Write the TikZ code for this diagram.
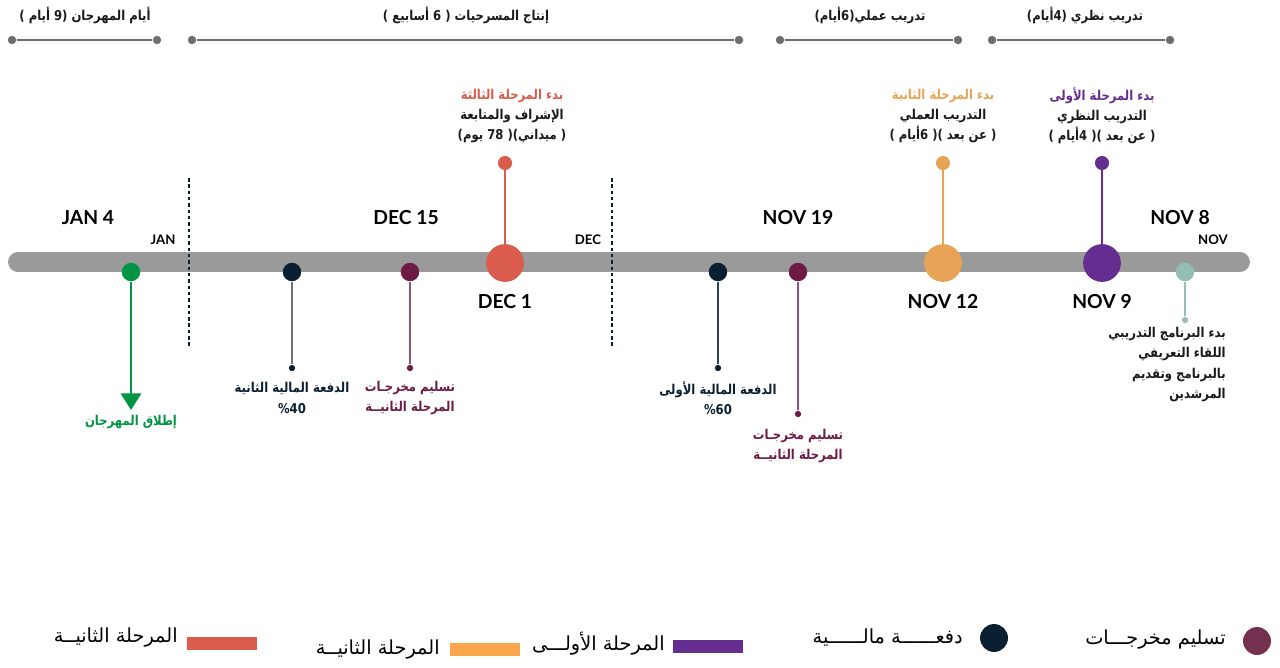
\documentclass[tikz,border=0pt]{standalone}
\usepackage{fontspec}
\setmainfont{Lato}
\newfontfamily\arabicfont[Script=Arabic]{DejaVu Sans}
\newfontfamily\arabicnarrow[Script=Arabic, FakeStretch=0.86]{DejaVu Sans}
\usetikzlibrary{arrows.meta}
\TeXXeTstate=1
\newcommand{\artxt}[1]{\beginR #1\endR}

\definecolor{redph}{HTML}{D95C4C}
\definecolor{orph}{HTML}{E8A456}
\definecolor{purph}{HTML}{662D91}
\definecolor{greenl}{HTML}{009444}
\definecolor{navyd}{HTML}{0B1F33}
\definecolor{maroond}{HTML}{6D1A45}
\definecolor{tealn}{HTML}{94BDB6}
\definecolor{linegray}{HTML}{9A9A9A}
\definecolor{bargray}{HTML}{6D6D6D}
\definecolor{legor}{HTML}{FBA54C}
\definecolor{legmar}{HTML}{74304F}
\definecolor{txtdark}{HTML}{1A1A1A}

\begin{document}
\begin{tikzpicture}[x=0.02cm, y=-0.02cm,
    bardot/.style={circle, fill=bargray, inner sep=0, minimum size=4.8pt},
    barline/.style={bargray, line width=1.6pt},
    toptxt/.style={font=\arabicnarrow\bfseries\fontsize{7.7}{10}\selectfont, text=txtdark, inner sep=0},
    bigdot/.style={circle, inner sep=0, minimum size=21.5pt},
    tipdot/.style={circle, inner sep=0, minimum size=8pt},
    linedot/.style={circle, inner sep=0, minimum size=10.5pt},
    enddot/.style={circle, inner sep=0, minimum size=3.6pt},
    stem/.style={line width=1.1pt},
    datetxt/.style={font=\bfseries\fontsize{11}{13}\selectfont, text=black, inner sep=0},
    monthtxt/.style={font=\bfseries\fontsize{7.5}{9}\selectfont, text=black, inner sep=0},
    lab/.style={font=\arabicnarrow\bfseries\fontsize{7.7}{11.5}\selectfont, align=center, inner sep=0},
    legtxt/.style={font=\arabicfont\fontsize{11}{13}\selectfont, text=black, inner sep=0, anchor=east},
    legbar/.style={inner sep=0, minimum width=39.7pt, minimum height=7.4pt},
  ]
  \useasboundingbox (0,0) rectangle (1280,667);

  % barre in alto
  \node[bardot] (fest1) at (12,40) {};
  \node[bardot] (fest2) at (157,40) {};
  \draw[barline] (fest1) -- (fest2);
  \node[toptxt] (festtxt) at (85,15) {\artxt{أيام المهرجان (9 أيام )}};

  \node[bardot] (prod1) at (192,40) {};
  \node[bardot] (prod2) at (739,40) {};
  \draw[barline] (prod1) -- (prod2);
  \node[toptxt] (prodtxt) at (466,15) {\artxt{إنتاج المسرحيات ( 6 أسابيع )}};

  \node[bardot] (prac1) at (780,40) {};
  \node[bardot] (prac2) at (958,40) {};
  \draw[barline] (prac1) -- (prac2);
  \node[toptxt] (practxt) at (870,15) {\artxt{تدريب عملي(6أيام)}};

  \node[bardot] (theo1) at (992,40) {};
  \node[bardot] (theo2) at (1170,40) {};
  \draw[barline] (theo1) -- (theo2);
  \node[toptxt] (theotxt) at (1085,15) {\artxt{تدريب نظري (4أيام)}};

  % linea del tempo
  \coordinate (tlstart) at (18,262);
  \coordinate (tlend) at (1240,262);
  \draw[linegray, line width=11.3pt, line cap=round] (tlstart) -- (tlend);

  % separatori dei mesi
  \coordinate (sepjan1) at (189,178);
  \coordinate (sepjan2) at (189,346);
  \coordinate (sepdec1) at (612,178);
  \coordinate (sepdec2) at (612,346);
  \draw[navyd, line width=0.7pt, dash pattern=on 2pt off 1.6pt] (sepjan1) -- (sepjan2);
  \draw[navyd, line width=0.7pt, dash pattern=on 2pt off 1.6pt] (sepdec1) -- (sepdec2);

  % date
  \node[datetxt] (jan4) at (88,218) {JAN 4};
  \node[monthtxt] (jan) at (163,240) {JAN};
  \node[datetxt] (dec15) at (406,218) {DEC 15};
  \node[monthtxt] (dec) at (588,240) {DEC};
  \node[datetxt] (nov19) at (798,218) {NOV 19};
  \node[datetxt] (nov8) at (1180,218) {NOV 8};
  \node[monthtxt] (nov) at (1213,240) {NOV};
  \node[datetxt] (dec1txt) at (505,302) {DEC 1};
  \node[datetxt] (nov12txt) at (943,302) {NOV 12};
  \node[datetxt] (nov9txt) at (1102,302) {NOV 9};

  % fasi (cerchi grandi)
  \node[bigdot, fill=redph] (dec1) at (505,263) {};
  \node[tipdot, fill=redph] (dec1top) at (505,163) {};
  \draw[stem, redph] (dec1top) -- (dec1);
  \node[lab] (dec1lab) at (512,116) {\textcolor{redph}{\artxt{بدء المرحلة الثالثة}}\\
    \textcolor{txtdark}{\artxt{الإشراف والمتابعة}}\\
    \textcolor{txtdark}{\artxt{( ميداني)( 78 يوم)}}};

  \node[bigdot, fill=orph] (nov12) at (943,263) {};
  \node[tipdot, fill=orph] (nov12top) at (943,163) {};
  \draw[stem, orph] (nov12top) -- (nov12);
  \node[lab] (nov12lab) at (943,116) {\textcolor{orph}{\artxt{بدء المرحلة الثانية}}\\
    \textcolor{txtdark}{\artxt{التدريب العملي}}\\
    \textcolor{txtdark}{\artxt{( عن بعد )( 6أيام )}}};

  \node[bigdot, fill=purph] (nov9) at (1102,263) {};
  \node[tipdot, fill=purph] (nov9top) at (1102,163) {};
  \draw[stem, purph] (nov9top) -- (nov9);
  \node[lab] (nov9lab) at (1102,116) {\textcolor{purph}{\artxt{بدء المرحلة الأولى}}\\
    \textcolor{txtdark}{\artxt{التدريب النظري}}\\
    \textcolor{txtdark}{\artxt{( عن بعد )( 4أيام )}}};

  % eventi sotto la linea
  \node[linedot, fill=greenl] (launch) at (131,272) {};
  \coordinate (launchend) at (131,410);
  \draw[greenl, line width=1.6pt, -{Triangle[width=11.5pt, length=9.5pt]}] (launch) -- (launchend);
  \node[lab, text=greenl] (launchtxt) at (131,422) {\artxt{إطلاق المهرجان}};

  \node[linedot, fill=navyd] (pay2) at (292,272) {};
  \node[enddot, fill=navyd] (pay2end) at (292,368) {};
  \draw[stem, black!55] (pay2) -- (pay2end);
  \node[lab, text=navyd] (pay2txt) at (292,398) {\artxt{الدفعة المالية الثانية}\\ \%40};

  \node[linedot, fill=maroond] (del2) at (410,272) {};
  \node[enddot, fill=maroond] (del2end) at (410,368) {};
  \draw[stem, maroond!75] (del2) -- (del2end);
  \node[lab, text=maroond] (del2txt) at (410,398) {\artxt{تسليم مخرجـات}\\ \artxt{المرحلة الثانيــة}};

  \node[linedot, fill=navyd] (pay1) at (718,272) {};
  \node[enddot, fill=navyd] (pay1end) at (718,368) {};
  \draw[stem, navyd!85] (pay1) -- (pay1end);
  \node[lab, text=navyd] (pay1txt) at (718,398) {\artxt{الدفعة المالية الأولى}\\ \%60};

  \node[linedot, fill=maroond] (del1) at (798,272) {};
  \node[enddot, fill=maroond] (del1end) at (798,414) {};
  \draw[stem, maroond!75] (del1) -- (del1end);
  \node[lab, text=maroond] (del1txt) at (798,446) {\artxt{تسليم مخرجـات}\\ \artxt{المرحلة الثانيــة}};

  \node[linedot, fill=tealn] (start) at (1185,272) {};
  \node[enddot, fill=tealn] (startend) at (1185,320) {};
  \draw[stem, tealn] (start) -- (startend);
  \node[lab, align=right, anchor=north east, text=txtdark] (starttxt) at (1226,327) {\artxt{بدء البرنامج التدريبي}\\
    \artxt{اللقاء التعريفي}\\ \artxt{بالبرنامج وتقديم}\\ \artxt{المرشدين}};

  % legenda
  \node[circle, inner sep=0, minimum size=15.9pt, fill=legmar] (legdel) at (1257,641) {};
  \node[legtxt] (legdeltxt) at (1226,640) {\artxt{تسليم مخرجـــات}};
  \node[circle, inner sep=0, minimum size=15.9pt, fill=navyd] (legpay) at (994,638) {};
  \node[legtxt] (legpaytxt) at (963,638) {\artxt{دفعــــــة مالــــــية}};
  \node[legbar, fill=purph] (legph1) at (708,646) {};
  \node[legtxt] (legph1txt) at (665,644) {\artxt{المرحلة الأولـــى}};
  \node[legbar, fill=legor] (legph2) at (485,649) {};
  \node[legtxt] (legph2txt) at (440,650) {\artxt{المرحلة الثانيــة}};
  \node[legbar, fill=redph] (legph3) at (222,643) {};
  \node[legtxt] (legph3txt) at (178,638) {\artxt{المرحلة الثانيــة}};
\end{tikzpicture}
\end{document}
